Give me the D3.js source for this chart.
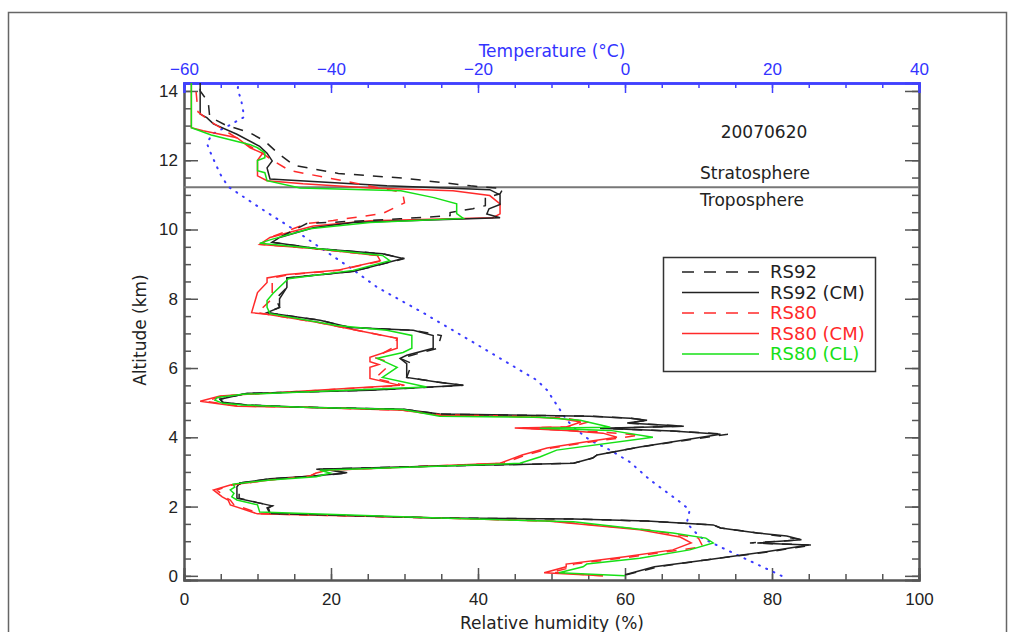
<!DOCTYPE html>
<html>
<head>
<meta charset="utf-8">
<script src="https://d3js.org/d3.v7.min.js"></script>
<style>
  body { margin: 0; background: #fff; }
  svg { font-family: "DejaVu Sans", sans-serif; }
  .axis path, .axis line { stroke: #555; stroke-width: 1.5px; }
  .axis path { stroke-width: 2px; }
  .axis text { font-size: 17px; fill: #222; }
  .taxis path, .taxis line { stroke: #4040ff; }
  .taxis path { stroke-width: 2.5px; }
  .taxis text { fill: #3333ff; }
</style>
</head>
<body>
<svg id="chart" width="1014" height="632"></svg>
<script>
// profiles as [relative humidity %, altitude km]
var rs92 = [
  [60.2,0.03],[64.5,0.26],[71,0.46],[79.5,0.69],[85.5,0.89],[77,0.95],[84,1.04],[81,1.15],[78,1.24],[73,1.38],[72,1.47],[63,1.58],[53,1.64],[34.8,1.67],[11.7,1.8],[11.5,1.96],[12,2.02],[10.3,2.1],[7.5,2.24],[7.5,2.5],[7.6,2.68],[11.7,2.8],[17.6,2.88],[22.5,2.97],[19.9,3.05],[18,3.08],[34.8,3.17],[53,3.25],[55.6,3.4],[56.2,3.49],[62,3.72],[74,4.09],[66.5,4.18],[56.6,4.26],[68,4.32],[60.3,4.41],[63,4.49],[60.7,4.55],[55.2,4.61],[34.8,4.67],[29.8,4.81],[16.2,4.87],[8.6,4.93],[5.3,5.01],[4.9,5.1],[8.6,5.27],[25.3,5.36],[38,5.5],[34.4,5.6],[30.3,5.73],[31,6.13],[29.4,6.28],[31,6.37],[34.5,6.57],[35,6.94],[31.2,7.09],[22.6,7.17],[18.5,7.38],[11.3,7.6],[13,7.75],[12.5,8.0],[14,8.33],[14,8.6],[23,8.79],[30,9.16],[27,9.3],[18,9.45],[12,9.63],[13,9.77],[16.7,10.17],[29.4,10.31],[36.2,10.4],[36.2,10.49],[39.3,10.6],[41,10.69],[41,10.92],[43,11.03],[43.4,11.18],[39,11.26],[30,11.48],[21,11.62],[15,11.85],[12.8,12.2],[11,12.55],[9,12.79],[5.6,13.02],[3.5,13.25],[3.3,13.68],[2.2,14.0],[2.2,14.3]
];
var rs92cm = [
  [60.0,0.03],[64,0.26],[71,0.46],[79,0.69],[85,0.89],[78,0.95],[84,1.04],[82,1.15],[78,1.24],[73,1.38],[72,1.47],[63,1.58],[53,1.64],[34.8,1.67],[11.7,1.8],[11.3,1.96],[12,2.02],[10.3,2.1],[7.2,2.24],[7.2,2.57],[7.6,2.68],[11.7,2.8],[17.6,2.88],[22,2.97],[19.9,3.05],[18,3.08],[34.8,3.17],[53,3.25],[55.6,3.4],[56.2,3.49],[62,3.72],[73,4.09],[66.5,4.18],[56.6,4.26],[68,4.32],[60.3,4.41],[63,4.49],[60.7,4.55],[55.2,4.61],[34.8,4.67],[29.8,4.81],[16.2,4.87],[8.6,4.93],[5.3,5.01],[4.9,5.1],[8.6,5.27],[25.3,5.36],[38,5.5],[34.4,5.6],[30.3,5.73],[30.3,6.13],[29.4,6.28],[30.3,6.37],[33.9,6.57],[33.9,6.94],[31.2,7.09],[22.6,7.17],[18.5,7.38],[11.3,7.6],[13,7.75],[13,8.0],[14,8.33],[14,8.6],[23,8.79],[29.8,9.16],[27,9.3],[18,9.45],[12,9.63],[13,9.77],[17.6,10.05],[23,10.2],[43,10.34],[41.2,10.45],[41.5,10.6],[43,10.72],[43,11.0],[41.6,11.15],[27.6,11.26],[11.7,11.46],[11.3,11.78],[12,11.98],[11.3,12.2],[10.3,12.4],[7.2,12.75],[4,13.05],[3.1,13.23],[2.2,13.33],[2.2,14.3]
];
var rs80 = [
  [57,0.0],[50,0.1],[53,0.26],[53,0.34],[61,0.55],[67.5,0.75],[70.6,0.84],[70,1.09],[63,1.33],[50,1.58],[34.8,1.67],[10.5,1.79],[6.8,2.05],[6.3,2.19],[5.5,2.28],[4.5,2.48],[6.5,2.62],[11.7,2.77],[17.1,2.88],[18,2.97],[19.5,3.05],[43.5,3.25],[46.5,3.49],[50,3.69],[55,3.86],[62,4.06],[57,4.15],[52,4.2],[46,4.27],[52.5,4.3],[55,4.44],[52,4.55],[45,4.61],[34.8,4.65],[29.8,4.78],[16.2,4.87],[7.5,4.9],[3,5.04],[5.2,5.19],[8.6,5.24],[30,5.5],[26,5.7],[27.5,6.0],[27.5,6.2],[26,6.3],[28.5,6.6],[29,6.86],[23.5,7.09],[18.1,7.32],[11.3,7.55],[10,7.6],[12,8.0],[12,8.33],[12,8.6],[14.5,8.7],[21,8.82],[27,9.1],[26.5,9.25],[17.6,9.45],[10.5,9.57],[11.7,9.77],[16.7,10.17],[20.3,10.26],[27,10.46],[30,10.77],[29.8,11.0],[29,11.1],[21.6,11.41],[14.4,11.7],[12,12.0],[10.7,12.2],[9,12.4],[6,12.8],[3.9,13.08],[2.6,13.28],[1.9,13.4],[1.5,14.3]
];
var rs80cm = [
  [57,0.0],[49,0.09],[52,0.26],[52,0.34],[60,0.55],[66.5,0.75],[69,0.95],[67.5,1.12],[62,1.33],[49.4,1.58],[34.8,1.67],[10,1.79],[6.3,2.05],[6,2.19],[5.2,2.28],[4,2.48],[6.3,2.62],[11.7,2.77],[17.1,2.88],[18,2.97],[19.5,3.05],[43,3.25],[46,3.49],[49.4,3.69],[54.3,3.86],[58.9,4.0],[57,4.12],[52,4.2],[45,4.27],[52,4.3],[54,4.44],[51,4.55],[44,4.61],[34.8,4.64],[29.8,4.78],[16.2,4.87],[7.2,4.9],[2.2,5.04],[4.9,5.19],[8.6,5.24],[29.4,5.5],[25.3,5.7],[25.3,6.02],[26.5,6.1],[25.3,6.18],[25.3,6.31],[29,6.57],[29,6.86],[23.5,7.09],[18.1,7.32],[11.3,7.55],[9.2,7.6],[10,8.18],[11.3,8.47],[11.3,8.6],[14,8.7],[20.8,8.82],[26.7,9.1],[26.3,9.25],[17.6,9.45],[10.3,9.57],[11.7,9.77],[17.6,10.1],[25.3,10.25],[42,10.34],[43,10.45],[43,10.74],[41.6,10.98],[36.6,11.12],[25.3,11.2],[16.2,11.32],[11.3,11.41],[10,11.55],[10,12.0],[10.7,12.2],[9,12.36],[7.2,12.65],[2.6,12.85],[1.0,12.94],[1.0,14.3]
];
var rs80cl = [
  [60,0.0],[51,0.09],[54.3,0.26],[54.8,0.34],[62,0.51],[68.8,0.75],[72,0.95],[71,1.09],[66.5,1.24],[53,1.56],[34.8,1.67],[10.3,1.84],[10,2.05],[7.2,2.19],[6.5,2.28],[6.8,2.38],[6.3,2.48],[6.9,2.56],[6.7,2.65],[11.7,2.77],[18,2.86],[19.9,2.97],[18.5,3.05],[45.7,3.25],[48.4,3.43],[50.7,3.63],[63.8,4.0],[58,4.2],[48.4,4.26],[58,4.29],[53.9,4.49],[48.4,4.58],[34.8,4.61],[29.8,4.8],[16.2,4.87],[8,4.93],[5.3,4.98],[4.2,5.07],[4.5,5.15],[8,5.24],[33,5.45],[27,5.73],[29,6.02],[26.3,6.28],[29.8,6.45],[31,6.57],[31,6.94],[27.6,7.09],[20.8,7.23],[11.7,7.57],[11.3,7.75],[11.3,7.95],[12.1,8.15],[14.2,8.58],[23,8.82],[28,9.1],[27,9.25],[18,9.45],[10.3,9.6],[11.7,9.7],[17.1,10.02],[25.3,10.2],[38,10.32],[37.1,10.46],[37.1,10.74],[34,10.92],[29.5,11.12],[15.8,11.2],[11.3,11.41],[11,11.64],[10,11.7],[10,11.99],[11,12.07],[11,12.21],[10,12.36],[9,12.45],[3.7,12.73],[1.0,12.94],[1.0,14.3]
];
// temperature profile as [temperature degC, altitude km]
var temperature = [
  [21.3,0.0],[20.1,0.12],[14.7,0.66],[10.2,1.12],[8.4,1.52],[8.8,1.9],[7.5,2.13],[3.4,2.77],[0.7,3.28],[-2.0,3.63],[-4.8,3.92],[-6.5,4.2],[-7.9,4.49],[-8.8,4.78],[-10.6,5.36],[-12.0,5.65],[-14.7,5.99],[-21.1,6.8],[-27.5,7.6],[-33.7,8.33],[-37.4,8.9],[-41.5,9.48],[-45.2,10.02],[-49.7,10.63],[-54.0,11.24],[-55.1,11.61],[-56.5,12.27],[-56.9,12.5],[-56.1,12.76],[-54.0,12.99],[-51.8,13.25],[-52.2,13.71],[-52.7,14.06],[-52.5,14.3]
];
var tropopause = 11.22;
var dateLabel = "20070620";
var legendNames = ["RS92", "RS92 (CM)", "RS80", "RS80 (CM)", "RS80 (CL)"];

var series = [
  {name: legendNames[0], data: rs92, color: "#222", dash: "10,9"},
  {name: legendNames[1], data: rs92cm, color: "#222", dash: null},
  {name: legendNames[2], data: rs80, color: "#ff2a2a", dash: "10,9"},
  {name: legendNames[3], data: rs80cm, color: "#ff2a2a", dash: null},
  {name: legendNames[4], data: rs80cl, color: "#16e016", dash: null}
];

var svg = d3.select("#chart");
var plotL = 184, plotR = 919, plotT = 83, plotB = 580;

var x = d3.scaleLinear().domain([0, 100]).range([plotL, plotR]);
var t = d3.scaleLinear().domain([-60, 40]).range([plotL, plotR]);
var y = d3.scaleLinear().domain([-0.12, 14.23]).range([plotB, plotT]);

// outer frame
svg.append("rect")
  .attr("x", 8.5).attr("y", 12.5).attr("width", 998).attr("height", 640)
  .attr("fill", "none").attr("stroke", "#666").attr("stroke-width", 1.5);

svg.append("clipPath").attr("id", "plot")
  .append("rect").attr("x", plotL).attr("y", plotT).attr("width", plotR - plotL).attr("height", plotB - plotT);

// axes, ticks pointing inward
svg.append("g").attr("class", "axis")
  .attr("transform", "translate(0," + plotB + ")")
  .call(d3.axisBottom(x).ticks(5).tickSize(-12).tickPadding(13));
svg.append("g").attr("class", "axis")
  .attr("transform", "translate(0," + plotB + ")")
  .call(d3.axisBottom(x).tickValues(d3.range(0, 101, 5)).tickSize(-6).tickFormat(""));

svg.append("g").attr("class", "axis")
  .attr("transform", "translate(" + plotL + ",0)")
  .call(d3.axisLeft(y).tickValues(d3.range(0, 15, 2)).tickSize(-14).tickPadding(6));
svg.append("g").attr("class", "axis")
  .attr("transform", "translate(" + plotL + ",0)")
  .call(d3.axisLeft(y).tickValues(d3.range(0, 14.1, 0.5)).tickSize(-7).tickFormat(""));
svg.append("g").attr("class", "axis")
  .attr("transform", "translate(" + plotR + ",0)")
  .call(d3.axisRight(y).tickValues(d3.range(0, 15, 2)).tickSize(-14).tickFormat(""));
svg.append("g").attr("class", "axis")
  .attr("transform", "translate(" + plotR + ",0)")
  .call(d3.axisRight(y).tickValues(d3.range(0, 14.1, 0.5)).tickSize(-7).tickFormat(""));

svg.append("g").attr("class", "axis taxis")
  .attr("transform", "translate(0," + plotT + ")")
  .call(d3.axisTop(t).ticks(5).tickSize(-10).tickPadding(8));
svg.append("g").attr("class", "axis taxis")
  .attr("transform", "translate(0," + plotT + ")")
  .call(d3.axisTop(t).tickValues(d3.range(-60, 41, 5)).tickSize(-5).tickFormat(""));

// axis titles
svg.append("text").attr("x", 552).attr("y", 57).attr("text-anchor", "middle")
  .attr("font-size", 17).attr("fill", "#3333ff").text("Temperature (°C)");
svg.append("text").attr("x", 552).attr("y", 629).attr("text-anchor", "middle")
  .attr("font-size", 17).attr("fill", "#222").text("Relative humidity (%)");
svg.append("text").attr("transform", "translate(146,330) rotate(-90)").attr("text-anchor", "middle")
  .attr("font-size", 17).attr("fill", "#222").text("Altitude (km)");

var plot = svg.append("g").attr("clip-path", "url(#plot)");

// tropopause
plot.append("line")
  .attr("x1", plotL).attr("x2", plotR).attr("y1", y(tropopause)).attr("y2", y(tropopause))
  .attr("stroke", "#777").attr("stroke-width", 2);

// temperature, dotted blue
plot.append("path")
  .datum(temperature)
  .attr("fill", "none").attr("stroke", "#3a3aff").attr("stroke-width", 2)
  .attr("stroke-dasharray", "1,7").attr("stroke-linecap", "round")
  .attr("d", d3.line().x(function(d) { return t(d[0]); }).y(function(d) { return y(d[1]); }));

var line = d3.line().x(function(d) { return x(d[0]); }).y(function(d) { return y(d[1]); });

// solid ones under the dashed ones, green last
[series[3], series[1], series[2], series[0], series[4]].forEach(function(s) {
  plot.append("path")
    .datum(s.data)
    .attr("fill", "none").attr("stroke", s.color).attr("stroke-width", 1.5)
    .attr("stroke-dasharray", s.dash)
    .attr("d", line);
});

// annotations
svg.append("text").attr("x", 764).attr("y", 138).attr("text-anchor", "middle")
  .attr("font-size", 17).attr("fill", "#222").text(dateLabel);
svg.append("text").attr("x", 755).attr("y", 179).attr("text-anchor", "middle")
  .attr("font-size", 17).attr("fill", "#222").text("Stratosphere");
svg.append("text").attr("x", 752).attr("y", 206).attr("text-anchor", "middle")
  .attr("font-size", 17).attr("fill", "#222").text("Troposphere");

// legend
var lg = svg.append("g");
lg.append("rect").attr("x", 663.5).attr("y", 257.5).attr("width", 212).attr("height", 114)
  .attr("fill", "#fff").attr("stroke", "#333").attr("stroke-width", 1.5);
series.forEach(function(s, i) {
  var yy = 272 + i * 20.5;
  lg.append("line").attr("x1", 682).attr("x2", 759).attr("y1", yy).attr("y2", yy)
    .attr("stroke", s.color).attr("stroke-width", 1.5).attr("stroke-dasharray", s.dash ? "12,10" : null);
  lg.append("text").attr("x", 770).attr("y", yy + 6).attr("font-size", 18)
    .attr("fill", s.color).text(s.name);
});
</script>
</body>
</html>
